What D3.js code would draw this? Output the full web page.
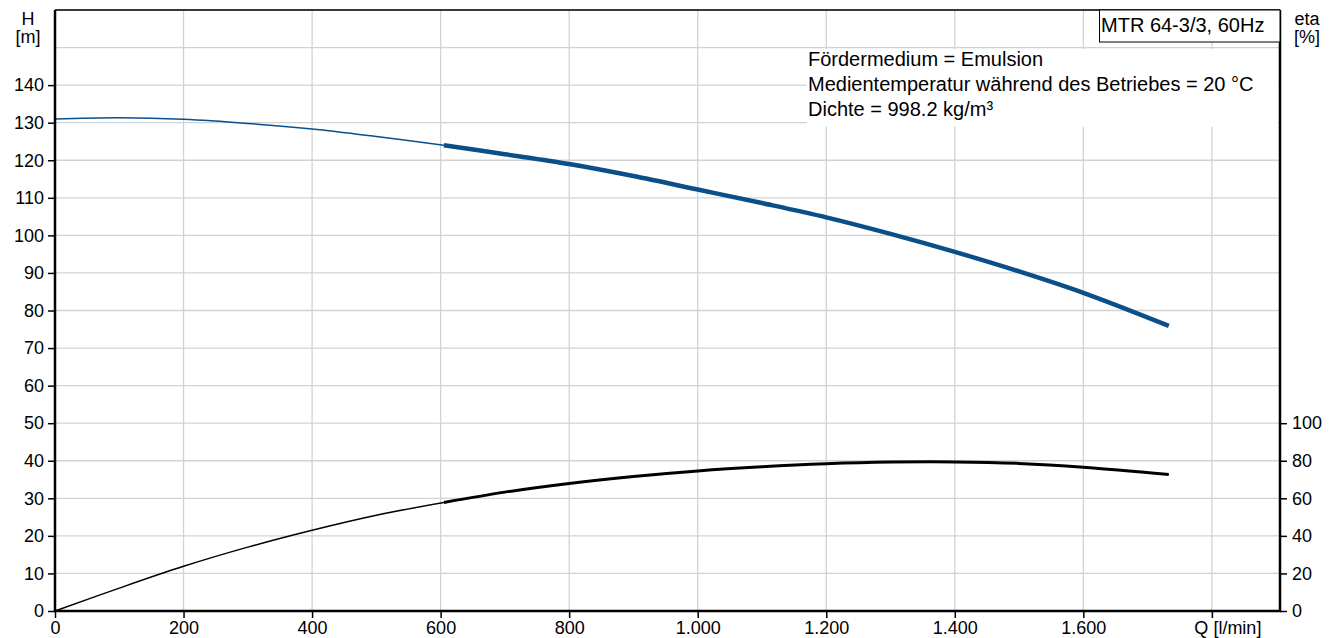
<!DOCTYPE html>
<html>
<head>
<meta charset="utf-8">
<script src="https://cdn.jsdelivr.net/npm/d3@7"></script>
<style>
  body { margin: 0; background: #fff; }
  svg { display: block; font-family: "Liberation Sans", Arial, sans-serif; }
</style>
</head>
<body>
<svg id="chart" width="1332" height="638"></svg>
<script>
// data
const flow = [0, 100, 200, 300, 400, 500, 605, 700, 800, 900, 1000, 1100, 1200, 1300, 1400, 1500, 1600, 1733];
const head = [131.0, 131.3, 130.9, 129.8, 128.3, 126.3, 124.0, 121.6, 119.0, 115.8, 112.2, 108.6, 104.8, 100.4, 95.6, 90.4, 84.7, 75.9];
const eta = [0, 12.2, 23.8, 34.0, 43.0, 51.0, 57.8, 63.3, 67.9, 71.6, 74.6, 76.8, 78.4, 79.3, 79.4, 78.6, 76.6, 72.7];
const opStart = 605; // curve drawn thick from here on

const xTicks = [0, 200, 400, 600, 800, 1000, 1200, 1400, 1600, 1800];
const hTicks = [0, 10, 20, 30, 40, 50, 60, 70, 80, 90, 100, 110, 120, 130, 140];
const hGrid = [10, 20, 30, 40, 50, 60, 70, 80, 90, 100, 110, 120, 130, 140, 150, 160];
const etaTicks = [0, 20, 40, 60, 80, 100];
const infoLines = ['Fördermedium = Emulsion', 'Medientemperatur während des Betriebes = 20 °C', 'Dichte = 998.2 kg/m³'];
const title = 'MTR 64-3/3, 60Hz';

// config
const config = {
  left: 55, right: 1280, top: 10, bottom: 611,
  color: { head: '#0b4f8a', eta: '#000', grid: '#d0d3d6' },
  font: 18
};

const svg = d3.select('#chart');
const x = d3.scaleLinear().domain([0, 1906]).range([config.left, config.right]);
const y = d3.scaleLinear().domain([0, 160]).range([config.bottom, config.top]);
const yEta = d3.scaleLinear().domain([0, 320]).range([config.bottom, config.top]);

const de = d3.formatLocale({ decimal: ',', thousands: '.', grouping: [3], currency: ['', '€'] });
const fmt = de.format(',d');

// grid
const grid = svg.append('g').attr('stroke', config.color.grid).attr('stroke-width', 1.3);
grid.selectAll('.vg').data(xTicks.filter(d => d > 0)).enter().append('line')
  .attr('x1', d => x(d)).attr('x2', d => x(d))
  .attr('y1', config.top).attr('y2', config.bottom);
grid.selectAll('.hg').data(hGrid).enter().append('line')
  .attr('x1', config.left).attr('x2', config.right)
  .attr('y1', d => y(d)).attr('y2', d => y(d));

// white box behind the info text
svg.append('rect')
  .attr('x', 807).attr('y', y(150) + 1.5)
  .attr('width', 471).attr('height', y(130) - y(150) + 2.5)
  .attr('fill', '#fff');

// curves, thin before the operating range and thick inside it
const pts = (vals) => flow.map((q, i) => ({ q: q, v: vals[i] }));
function drawCurve(vals, scale, color, thin, thick) {
  const line = d3.line().x(d => x(d.q)).y(d => scale(d.v)).curve(d3.curveCatmullRom.alpha(0.5));
  const all = pts(vals);
  svg.append('path').datum(all.filter(d => d.q <= opStart))
    .attr('d', line).attr('fill', 'none').attr('stroke', color).attr('stroke-width', thin);
  svg.append('path').datum(all.filter(d => d.q >= opStart))
    .attr('d', line).attr('fill', 'none').attr('stroke', color).attr('stroke-width', thick);
}
drawCurve(head, y, config.color.head, 1.5, 4.5);
drawCurve(eta, yEta, config.color.eta, 1.5, 3);

// axes
const xAxis = svg.append('g').attr('transform', `translate(0,${config.bottom})`)
  .call(d3.axisBottom(x).tickValues(xTicks).tickSizeOuter(0).tickSize(7).tickPadding(3)
    .tickFormat(d => d === 1800 ? 'Q [l/min]' : fmt(d)));
const yAxis = svg.append('g').attr('transform', `translate(${config.left},0)`)
  .call(d3.axisLeft(y).tickValues(hTicks).tickSizeOuter(0).tickSize(7).tickPadding(4));
const etaAxis = svg.append('g').attr('transform', `translate(${config.right},0)`)
  .call(d3.axisRight(yEta).tickValues(etaTicks).tickSizeOuter(0).tickSize(7).tickPadding(5));

[xAxis, yAxis, etaAxis].forEach(g => {
  g.select('.domain').remove();
  g.selectAll('line').attr('stroke', '#000').attr('stroke-width', 1.5);
  g.selectAll('text').attr('fill', '#000').style('font-size', config.font + 'px');
});
// the unit label sits a bit right of its tick
xAxis.selectAll('.tick').filter(d => d === 1800).select('text')
  .attr('text-anchor', 'start').attr('x', -18);

// frame
const frame = svg.append('g').attr('stroke', '#000');
frame.append('line').attr('x1', config.left).attr('x2', config.right)
  .attr('y1', config.top).attr('y2', config.top).attr('stroke-width', 1.5);
frame.append('line').attr('x1', config.left).attr('x2', config.left)
  .attr('y1', config.top).attr('y2', config.bottom).attr('stroke-width', 2.5);
frame.append('line').attr('x1', config.right).attr('x2', config.right)
  .attr('y1', config.top).attr('y2', config.bottom).attr('stroke-width', 2.5);
frame.append('line').attr('x1', config.left - 1).attr('x2', config.right + 1)
  .attr('y1', config.bottom).attr('y2', config.bottom).attr('stroke-width', 2.5);

// axis titles
const labels = svg.append('g').style('font-size', config.font + 'px').attr('text-anchor', 'middle');
labels.append('text').attr('x', 28).attr('y', 25).text('H');
labels.append('text').attr('x', 28).attr('y', 43).text('[m]');
labels.append('text').attr('x', 1307).attr('y', 25).text('eta');
labels.append('text').attr('x', 1307).attr('y', 43).text('[%]');

// title box
svg.append('rect').attr('x', 1099.5).attr('y', config.top).attr('width', config.right - 1099.5).attr('height', 32)
  .attr('fill', '#fff').attr('stroke', '#000').attr('stroke-width', 1);
svg.append('text').attr('x', 1101).attr('y', 32).style('font-size', '20px').text(title);

// info text
svg.append('g').selectAll('text').data(infoLines).enter().append('text')
  .attr('x', 808).attr('y', (d, i) => 66 + i * 25)
  .style('font-size', '20px').text(d => d);
</script>
</body>
</html>
